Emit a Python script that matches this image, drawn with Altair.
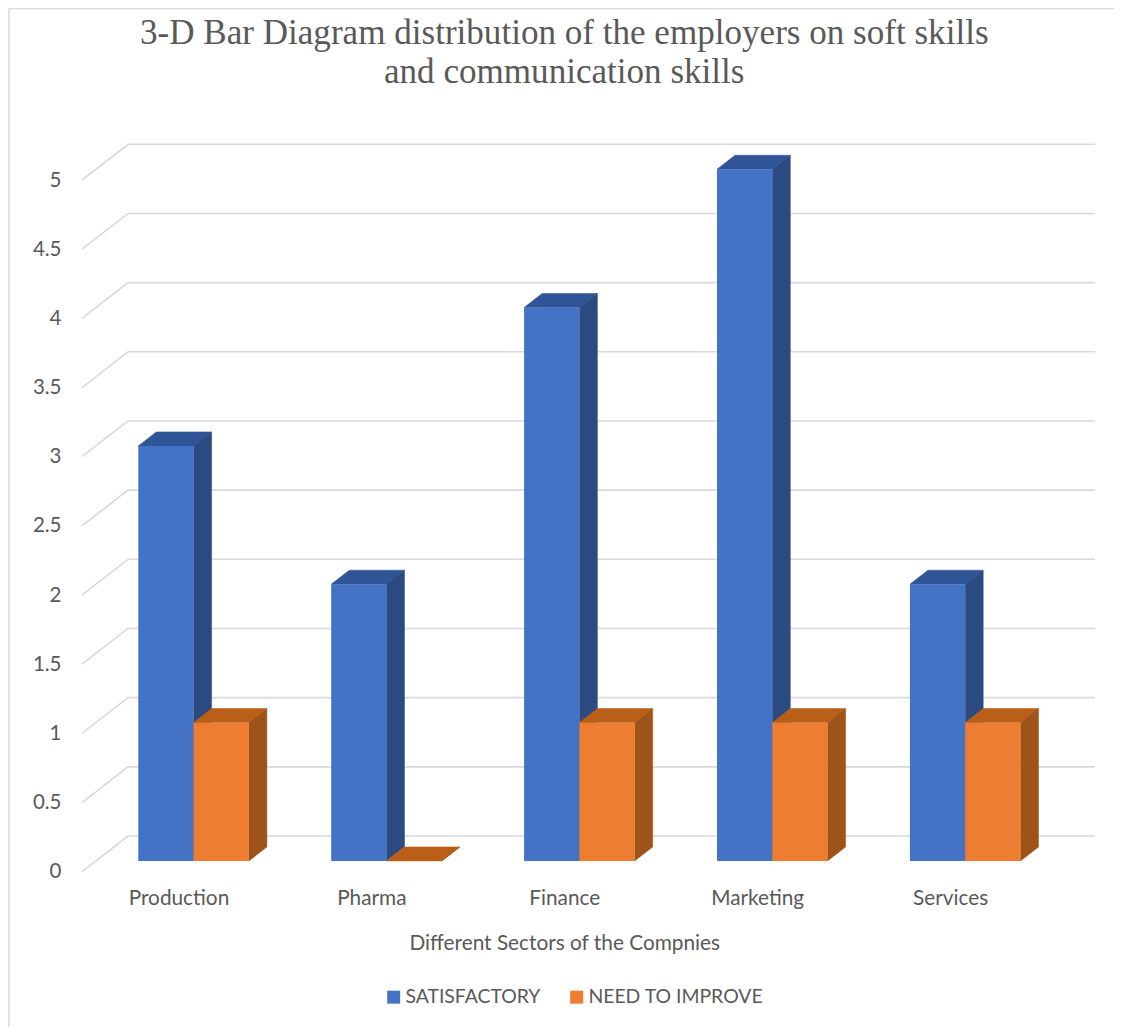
import altair as alt
import pandas as pd

# ---- values
categories = ["Production", "Pharma", "Finance", "Marketing", "Services"]
satisfactory = [3, 2, 4, 5, 2]
need_to_improve = [1, 0, 1, 1, 1]
series_names = ["SATISFACTORY", "NEED TO IMPROVE"]
y_ticks = [0, 0.5, 1, 1.5, 2, 2.5, 3, 3.5, 4, 4.5, 5]
title_lines = ["3-D Bar Diagram distribution of the employers on soft skills",
               "and communication skills"]
x_title = "Different Sectors of the Compnies"

# ---- layout (pixels)
PAD_L, PAD_T = 74, 172
W, H = 964.5, 691.7
UX, UY = W / 5, H / 5            # px per data unit
WALL_DX, WALL_DY = 46 / UX, 35.7 / UY
WALL_END = 1013 / UX
BASE = 10.8 / UY
BAR_X0 = 56.3 / UX
BAR_W = 55.3 / UX
D_X, D_Y = 18 / UX, 14 / UY

FONT = "Lato"
GREY = "#595959"
BLUE, ORANGE = "#4472C4", "#ED7D31"
BLUE_TOP, BLUE_SIDE = "#2F5597", "#2A4A80"
ORANGE_TOP, ORANGE_SIDE = "#BA5F18", "#9E5418"

axis_x = alt.Axis(values=[i + 0.5 for i in range(5)],
                  labelExpr=str(categories) + "[floor(datum.value)]",
                  ticks=False, domain=False, grid=False, labelAngle=0,
                  labelPadding=17, labelFont=FONT, labelFontSize=20.8, labelColor=GREY,
                  titleFont=FONT, titleFontSize=20.8, titleColor=GREY,
                  titleFontWeight="normal", titlePadding=25)
axis_y = alt.Axis(values=y_ticks, format="~g", ticks=False, domain=False, grid=False,
                  labelPadding=21, labelFont=FONT, labelFontSize=20.5, labelColor=GREY)

def X(f="x"):
    return alt.X(f"{f}:Q", scale=alt.Scale(domain=[0, 5], nice=False, zero=False), axis=axis_x, title=x_title)

def Y(f="y"):
    return alt.Y(f"{f}:Q", scale=alt.Scale(domain=[0, 5], nice=False, zero=False), axis=axis_y, title=None, stack=None)

# ---- table builders
grid_rows = []
for v in y_ticks:
    grid_rows += [dict(v=v, o=0, x=0, y=v),
                  dict(v=v, o=1, x=WALL_DX, y=v + WALL_DY),
                  dict(v=v, o=2, x=WALL_END, y=v + WALL_DY)]

def faces(values, shift):
    top, side, front = [], [], []
    for i, (c, v) in enumerate(zip(categories, values)):
        x0 = i + BAR_X0 + shift
        x1 = x0 + BAR_W
        t = BASE + v
        top += [dict(c=c, x=x0, y=t, yb=t),
                dict(c=c, x=x0 + D_X, y=t + D_Y, yb=t),
                dict(c=c, x=x1, y=t + D_Y, yb=t),
                dict(c=c, x=x1 + D_X, y=t + D_Y, yb=t + D_Y)]
        side += [dict(c=c, x=x1, y=t, yb=BASE),
                 dict(c=c, x=x1 + D_X, y=t + D_Y, yb=BASE + D_Y)]
        front.append(dict(c=c, x=x0, x2=x1, y=t, yb=BASE))
    return pd.DataFrame(top), pd.DataFrame(side), pd.DataFrame(front)

color_scale = alt.Scale(domain=series_names, range=[BLUE, ORANGE])
legend = alt.Legend(title=None, orient="none", legendX=302, legendY=807, direction="horizontal",
                    symbolType="square", symbolSize=169, symbolStrokeWidth=0, labelFont=FONT,
                    labelFontSize=19.4, labelColor=GREY, columnPadding=26, labelOffset=2, labelLimit=300)

grid = alt.Chart(pd.DataFrame(grid_rows)).mark_line(color="#d9d9d9", strokeWidth=1.6).encode(
    x=X(), y=Y(), detail="v:N", order="o:Q")

frame_left = alt.Chart(pd.DataFrame({"a": [0]})).mark_rule(color="#d9d9d9", strokeWidth=1.5).encode(
    x=alt.value(9 - 8 - PAD_L), y=alt.value(-PAD_T + 0.5), y2=alt.value(H + 200))
frame_top = alt.Chart(pd.DataFrame({"a": [0]})).mark_rule(color="#d9d9d9", strokeWidth=1.5).encode(
    y=alt.value(-PAD_T + 0.5), x=alt.value(9 - 8 - PAD_L), x2=alt.value(W + 200))

def bar_layers(values, shift, name, top_c, side_c):
    top, side, front = faces(values, shift)
    front["s"] = name
    return [
        alt.Chart(top).mark_area(fill=top_c, opacity=1, stroke=top_c, strokeWidth=0.5).encode(
            x=X(), y=Y(), y2="yb:Q", detail="c:N"),
        alt.Chart(side).mark_area(fill=side_c, opacity=1, stroke=side_c, strokeWidth=0.5).encode(
            x=X(), y=Y(), y2="yb:Q", detail="c:N"),
        alt.Chart(front).mark_rect().encode(
            x=X(), x2="x2:Q", y=Y(), y2="yb:Q",
            color=alt.Color("s:N", scale=color_scale, legend=legend)),
    ]

layers = [frame_left, frame_top, grid]
layers += bar_layers(satisfactory, 0, series_names[0], BLUE_TOP, BLUE_SIDE)
layers += bar_layers(need_to_improve, BAR_W, series_names[1], ORANGE_TOP, ORANGE_SIDE)

chart = alt.layer(*layers).properties(
    width=W, height=H,
    padding={"left": PAD_L, "top": PAD_T, "right": 1106 - PAD_L - W, "bottom": 1019 - PAD_T - H},
    autosize=alt.AutoSizeParams(type="none"),
    background="white",
    title=alt.TitleParams(text=title_lines, font="Liberation Serif", fontSize=35.1, fontWeight="normal",
                          color=GREY, lineHeight=39, anchor="middle", frame="group", offset=-82),
).configure_view(stroke=None)

chart.save("out.html", embed_options={"renderer": "svg", "actions": False})
